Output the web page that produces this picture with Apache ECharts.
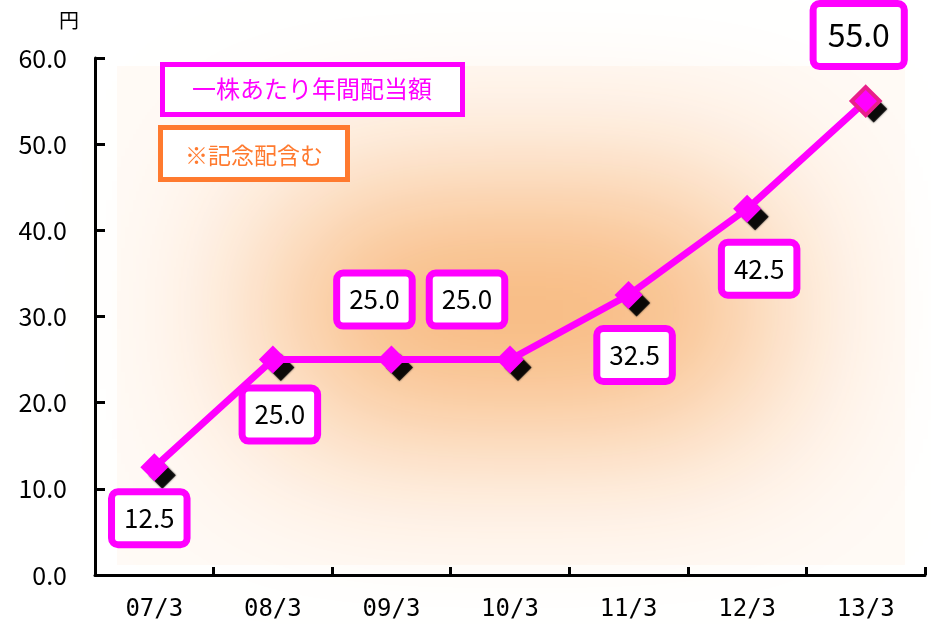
<!DOCTYPE html>
<html>
<head>
<meta charset="utf-8">
<script src="https://cdn.jsdelivr.net/npm/echarts@6/dist/echarts.min.js"></script>
<style>html,body{margin:0;padding:0;background:#fff}#c{width:931px;height:624px}</style>
</head>
<body>
<div id="c"></div>
<script>
// ---- data ----
const categories = ['07/3', '08/3', '09/3', '10/3', '11/3', '12/3', '13/3'];
const dividend = [12.5, 25.0, 25.0, 25.0, 32.5, 42.5, 55.0];
const yTicks = [0, 10, 20, 30, 40, 50, 60];
const unitLabel = '円';
const legendMain = '一株あたり年間配当額';
const legendNote = '※記念配含む';

// ---- layout (label box offsets from each point, px) ----
const labelOffsets = [[-5, 51], [7, 55], [-17, -60], [-43, -60], [6, 60], [12, 60], [-7, -66]];

const MAG = '#FF00FF';
const ORG = '#FF7A2F';
const JP = '"Noto Sans CJK JP", "Noto Sans", sans-serif';

const chart = echarts.init(document.getElementById('c'), null, {renderer: 'canvas'});

const lastIdx = dividend.length - 1;
const lineData = dividend.map((v, i) => {
  const big = i === lastIdx;
  const item = {
    value: v,
    label: {
      show: true,
      position: 'inside',
      offset: labelOffsets[i],
      formatter: (p) => p.value.toFixed(1),
      color: '#000',
      fontFamily: JP,
      fontSize: big ? 32 : 26,
      lineHeight: big ? 32 : 26,
      backgroundColor: '#fff',
      borderColor: MAG,
      borderWidth: 7,
      borderRadius: 3,
      padding: big ? [12, 11] : [10, 9],
      align: 'center',
      verticalAlign: 'middle'
    }
  };
  if (big) {
    item.itemStyle = {color: MAG, borderColor: '#E8208A', borderWidth: 4};
  }
  return item;
});

const SHIFT = 1500;
const option = {
  animation: false,
  grid: {left: 95, right: 6, top: 58, bottom: 49, containLabel: false, outerBoundsMode: 'none'},
  xAxis: {
    type: 'category',
    data: categories,
    boundaryGap: true,
    axisLine: {show: true, lineStyle: {color: '#000', width: 3}},
    axisTick: {show: true, inside: true, length: 8, lineStyle: {color: '#000', width: 3}},
    axisLabel: {color: '#000', fontFamily: '"DejaVu Sans Mono", monospace', fontSize: 24, margin: 23},
    splitLine: {show: false}
  },
  yAxis: {
    type: 'value',
    min: yTicks[0],
    max: yTicks[yTicks.length - 1],
    interval: yTicks[1] - yTicks[0],
    axisLine: {show: true, lineStyle: {color: '#000', width: 3}},
    axisTick: {show: true, inside: true, length: 10, lineStyle: {color: '#000', width: 3}},
    axisLabel: {color: '#000', fontFamily: JP, fontSize: 25, margin: 28, formatter: (v) => v.toFixed(1)},
    splitLine: {show: false}
  },
  graphic: [
    {type: 'rect', z: -20, silent: true, shape: {x: 117, y: 66, width: 788, height: 499}, style: {fill: '#FFFAF6'}},
    {type: 'rect', z: -19, silent: true, shape: {x: 280 - SHIFT, y: 200, width: 480, height: 220},
      style: {fill: '#F7AF6C', shadowBlur: 180, shadowColor: '#F7AF6C', shadowOffsetX: SHIFT, shadowOffsetY: 0}},
    {type: 'text', z: 50, style: {x: 69, y: 20, text: unitLabel, fill: '#000', font: '20px ' + JP, align: 'center', verticalAlign: 'middle'}},
    {type: 'rect', z: 50, shape: {x: 162.5, y: 64.5, width: 300, height: 50}, style: {fill: '#fff', stroke: MAG, lineWidth: 5}},
    {type: 'text', z: 51, style: {x: 312, y: 89, text: legendMain, fill: MAG, font: '24px ' + JP, align: 'center', verticalAlign: 'middle'}},
    {type: 'rect', z: 50, shape: {x: 160.5, y: 127.5, width: 187, height: 52}, style: {fill: '#fff', stroke: ORG, lineWidth: 5}},
    {type: 'text', z: 51, style: {x: 254, y: 155, text: legendNote, fill: ORG, font: '23px ' + JP, align: 'center', verticalAlign: 'middle'}}
  ],
  series: [
    {
      name: 'shadow',
      type: 'scatter',
      data: dividend,
      symbol: 'diamond',
      symbolSize: 27,
      symbolOffset: [8, 8],
      itemStyle: {color: '#000', shadowBlur: 2, shadowColor: '#000'},
      z: 1,
      silent: true
    },
    {
      name: legendMain,
      type: 'line',
      data: lineData,
      symbol: 'diamond',
      symbolSize: 28,
      showAllSymbol: true,
      lineStyle: {color: MAG, width: 7},
      itemStyle: {color: MAG},
      z: 3
    }
  ]
};
chart.setOption(option);
</script>
</body>
</html>
